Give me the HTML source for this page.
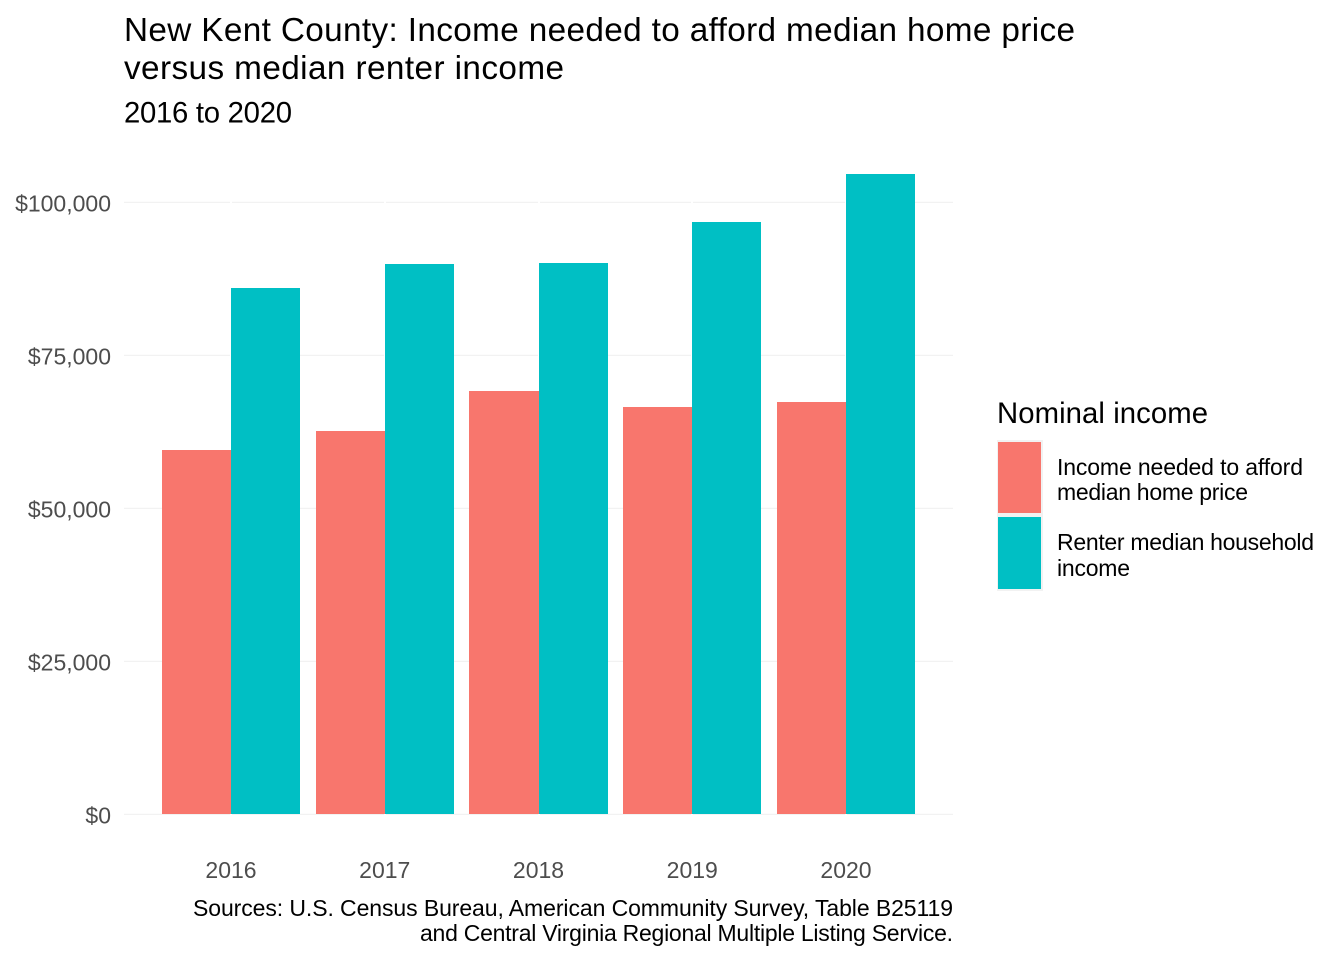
<!DOCTYPE html>
<html>
<head>
<meta charset="utf-8">
<title>New Kent County income chart</title>
<style>
html,body{margin:0;padding:0;background:#fff;}
svg{display:block;font-family:"Liberation Sans",Arial,sans-serif;}
</style>
</head>
<body>
<svg id="chart" width="1344" height="960" viewBox="0 0 1344 960">
  <rect x="0" y="0" width="1344" height="960" fill="#ffffff"></rect>
  <text x="124" y="41" font-size="33.3" textLength="951" lengthAdjust="spacing" fill="#000">New Kent County: Income needed to afford median home price</text>
  <text x="124" y="79" font-size="33.3" textLength="440" lengthAdjust="spacing" fill="#000">versus median renter income</text>
  <text x="124" y="122.5" font-size="29.3" textLength="168" lengthAdjust="spacing" fill="#000">2016 to 2020</text>
  <g id="grid"></g>
  <g id="bars"></g>
  <g id="yticks"></g>
  <g id="xticks"></g>
  <text x="193" y="916" font-size="23" textLength="760" lengthAdjust="spacing" fill="#000">Sources: U.S. Census Bureau, American Community Survey, Table B25119</text>
  <text x="420" y="941" font-size="23" textLength="533" lengthAdjust="spacing" fill="#000">and Central Virginia Regional Multiple Listing Service.</text>
  <g>
    <text x="997" y="423" font-size="29.3" textLength="211" lengthAdjust="spacing" fill="#000">Nominal income</text>
    <rect x="997" y="440" width="46" height="151" fill="#f2f2f2"></rect>
    <rect x="998" y="442" width="43" height="71" fill="#F8766D"></rect>
    <rect x="998" y="517" width="43" height="72" fill="#00BFC4"></rect>
    <text x="1057" y="475" font-size="23" textLength="246" lengthAdjust="spacing" fill="#000">Income needed to afford</text>
    <text x="1057" y="500" font-size="23" textLength="191" lengthAdjust="spacing" fill="#000">median home price</text>
    <text x="1057" y="550" font-size="23" textLength="257" lengthAdjust="spacing" fill="#000">Renter median household</text>
    <text x="1057" y="576" font-size="23" textLength="73" lengthAdjust="spacing" fill="#000">income</text>
  </g>
</svg>
<script>
const years = ['2016', '2017', '2018', '2019', '2020'];
const affordIncome = [59480, 62580, 69120, 66500, 67320];
const renterIncome = [85950, 89870, 90040, 96730, 104575];
const yTickValues = [0, 25000, 50000, 75000, 100000];
const yTickLabels = ['$0', '$25,000', '$50,000', '$75,000', '$100,000'];

const NS = 'http://www.w3.org/2000/svg';
const gridG = document.getElementById('grid');
const barsG = document.getElementById('bars');
const yG = document.getElementById('yticks');
const xG = document.getElementById('xticks');

function yScale(v) { return 814 - v * 612 / 100000; }
function xScale(i) { return 231 + i * 153.75; }
const halfBar = 69.2;

function make(tag, attrs) {
  const el = document.createElementNS(NS, tag);
  for (const k in attrs) el.setAttribute(k, attrs[k]);
  return el;
}

yTickValues.forEach(function (v, i) {
  const gy = yScale(v) + 0.4;
  const line = make('line', { x1: 124, x2: 953, y1: gy, y2: gy, stroke: '#f2f2f2', 'stroke-width': 1.3 });
  
  
  gridG.appendChild(line);
  const t = make('text', { x: 111, y: yScale(v) + 9.5, 'font-size': 23, 'text-anchor': 'end', fill: '#4d4d4d' });
  t.textContent = yTickLabels[i];
  
  
  yG.appendChild(t);
});

years.forEach(function (yr, i) {
  const cx = xScale(i);
  const left = Math.round(cx - halfBar);
  const mid = Math.round(cx);
  const right = Math.round(cx + halfBar);
  const base = Math.round(yScale(0));

  const gap = make('rect', { x: mid - 1, y: 150, width: 2, height: base + 5 - 150, fill: '#ffffff' });
  
  
  gridG.appendChild(gap);

  const aTop = Math.round(yScale(affordIncome[i]));
  const a = make('rect', { x: left, y: aTop, width: mid - left, height: base - aTop, fill: '#F8766D' });
  
  
  barsG.appendChild(a);

  const rTop = Math.round(yScale(renterIncome[i]));
  const r = make('rect', { x: mid, y: rTop, width: right - mid, height: base - rTop, fill: '#00BFC4' });
  
  
  barsG.appendChild(r);

  const t = make('text', { x: cx, y: 878, 'font-size': 23, 'text-anchor': 'middle', fill: '#4d4d4d' });
  t.textContent = yr;
  
  
  xG.appendChild(t);
});
</script>
</body>
</html>
